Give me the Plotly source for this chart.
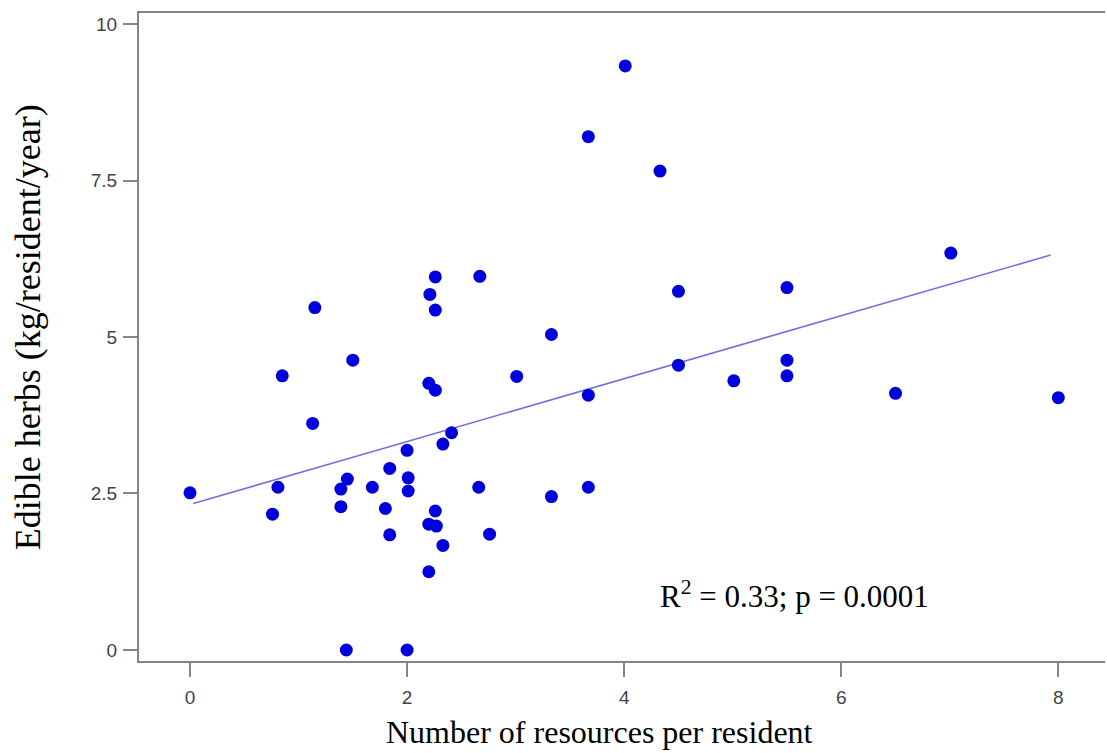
import plotly.graph_objects as go

# Data
resources = [0.00, 0.76, 0.81, 0.85, 1.13, 1.15, 1.39, 1.39, 1.44, 1.45,
             1.50, 1.68, 1.80, 1.84, 1.84, 2.00, 2.00, 2.01, 2.01, 2.20,
             2.20, 2.20, 2.21, 2.26, 2.26, 2.26, 2.26, 2.27, 2.33, 2.33,
             2.41, 2.66, 2.67, 2.76, 3.01, 3.33, 3.33, 3.67, 3.67, 3.67,
             4.01, 4.33, 4.50, 4.50, 5.01, 5.50, 5.50, 5.50, 6.50, 7.01,
             8.00]
herbs = [2.51, 2.17, 2.60, 4.38, 3.62, 5.47, 2.29, 2.57, 0.00, 2.73,
         4.63, 2.60, 2.26, 1.84, 2.90, 0.00, 3.19, 2.54, 2.75, 1.25,
         2.01, 4.26, 5.68, 2.22, 5.43, 4.15, 5.96, 1.98, 1.67, 3.29,
         3.47, 2.60, 5.97, 1.85, 4.37, 2.45, 5.04, 2.60, 4.07, 8.20,
         9.33, 7.65, 4.55, 5.73, 4.30, 4.38, 4.63, 5.79, 4.10, 6.34,
         4.03]

fit_x = [0.03, 7.93]
fit_y = [2.34, 6.31]

x_ticks = [0, 2, 4, 6, 8]
x_tick_labels = ["0", "2", "4", "6", "8"]
y_ticks = [0, 2.5, 5, 7.5, 10]
y_tick_labels = ["0", "2.5", "5", "7.5", "10"]

x_title = "Number of resources per resident"
y_title = "Edible herbs (kg/resident/year)"
stat_text = "R<sup>2</sup> = 0.33; p = 0.0001"

SERIF = "Liberation Serif, Times New Roman, serif"

fig = go.Figure()
fig.add_trace(go.Scatter(
    x=fit_x, y=fit_y, mode="lines",
    line=dict(color="#7272dc", width=1.6),
    hoverinfo="skip", showlegend=False))
fig.add_trace(go.Scatter(
    x=resources, y=herbs, mode="markers",
    marker=dict(color="#0000dc", size=13, line=dict(width=0)),
    showlegend=False))

axis_common = dict(
    showgrid=False, zeroline=False,
    showline=True, linecolor="#858585", linewidth=2,
    ticks="outside", ticklen=14, tickwidth=2, tickcolor="#858585",
    tickfont=dict(family="Liberation Sans, Arial, sans-serif", size=19, color="#444444"),
)

fig.update_xaxes(
    range=[-0.47, 8.43], tickvals=x_ticks, ticktext=x_tick_labels,
    mirror=True, ticklabelstandoff=4,
    **axis_common)
fig.update_yaxes(
    range=[-0.176, 10.176], tickvals=y_ticks, ticktext=y_tick_labels,
    ticklabelstandoff=2,
    **axis_common)

# axis titles
fig.add_annotation(
    x=0.477, y=-0.109, xref="paper", yref="paper", text=x_title, showarrow=False,
    xanchor="center", yanchor="middle",
    font=dict(family=SERIF, size=32, color="black"))
fig.add_annotation(
    x=-0.115, y=0.515, xref="paper", yref="paper", text=y_title, showarrow=False,
    textangle=-90, xanchor="center", yanchor="middle",
    font=dict(family=SERIF, size=36, color="black"))

fig.add_annotation(
    x=4.31, y=0.88, xref="x", yref="y", text=stat_text, showarrow=False,
    xanchor="left", yanchor="middle",
    font=dict(family=SERIF, size=31, color="black"))

fig.update_layout(
    width=1107, height=753,
    margin=dict(l=139, r=2, t=13, b=92, pad=0),
    plot_bgcolor="white", paper_bgcolor="white",
)

fig.write_html("out.html")
